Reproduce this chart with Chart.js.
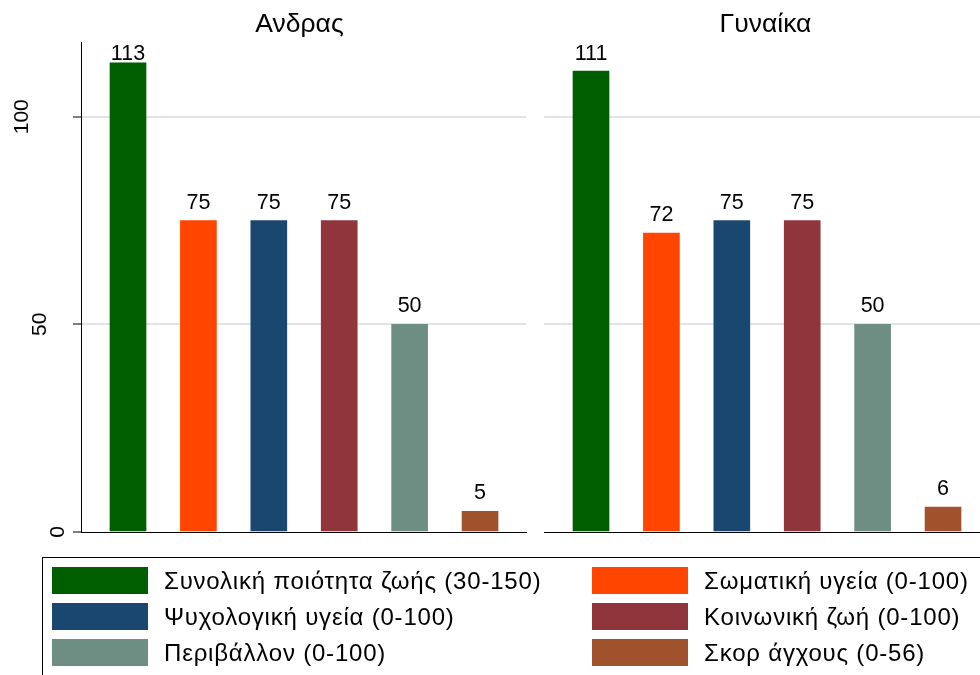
<!DOCTYPE html>
<html>
<head>
<meta charset="utf-8">
<script src="https://cdn.jsdelivr.net/npm/chart.js@4.4.1/dist/chart.umd.min.js"></script>
<style>
  html, body { margin: 0; padding: 0; background: #fff; overflow: hidden; width: 980px; height: 675px; }
  #wrap { position: relative; width: 980px; height: 675px; overflow: hidden; font-family: "Liberation Sans", Arial, sans-serif; }
  canvas { position: absolute; top: 0; }
  #legend { position: absolute; left: 42px; top: 557px; width: 1000px; height: 200px; border: 1px solid #000; box-sizing: border-box; }
  .item { position: absolute; height: 27px; display: flex; align-items: center; }
  .sw { width: 96px; height: 27px; margin-right: 16px; flex: none; }
  .lab { font-size: 24px; letter-spacing: 0.8px; color: #000; white-space: nowrap; }
</style>
</head>
<body>
<div id="wrap">
  <canvas id="men" width="535" height="675"></canvas>
  <canvas id="women" width="460" height="675" style="left:535px"></canvas>
  <div id="legend"></div>
</div>
<script>
// Scale measures shown in each panel
const measures = [
  'Συνολική ποιότητα ζωής (30-150)',
  'Σωματική υγεία (0-100)',
  'Ψυχολογική υγεία (0-100)',
  'Κοινωνική ζωή (0-100)',
  'Περιβάλλον (0-100)',
  'Σκορ άγχους (0-56)'
];
const barColors = ['#005E00', '#FF4500', '#1A476F', '#90353B', '#6E8E84', '#A0522D'];
const panelTitles = ['Ανδρας', 'Γυναίκα'];
const menValues = [113, 75, 75, 75, 50, 5];
const womenValues = [111, 72, 75, 75, 50, 6];
const yTicks = [0, 50, 100];
const yMax = 118;

const FONT = '"Liberation Sans", Arial, sans-serif';

// Panel title centred over the plot region
const titlePlugin = {
  id: 'panelTitle',
  afterDraw(chart, args, opts) {
    const { ctx, chartArea } = chart;
    ctx.save();
    ctx.font = '26.5px ' + FONT;
    ctx.fillStyle = '#000';
    ctx.textAlign = 'center';
    ctx.textBaseline = 'alphabetic';
    ctx.fillText(opts.text, (chartArea.left + chartArea.right) / 2 + opts.shift, chartArea.top - 10);
    ctx.restore();
  }
};

// Value printed above every bar
const valueLabels = {
  id: 'valueLabels',
  afterDatasetsDraw(chart) {
    const { ctx, chartArea } = chart;
    const ds = chart.data.datasets[0];
    const meta = chart.getDatasetMeta(0);
    ctx.save();
    ctx.font = '21.5px ' + FONT;
    ctx.fillStyle = '#000';
    ctx.textAlign = 'center';
    ctx.textBaseline = 'alphabetic';
    meta.data.forEach((bar, i) => {
      const y = Math.max(bar.y - 12, chartArea.top + 17.5);
      ctx.fillText(String(ds.data[i].y), bar.x, y);
    });
    ctx.restore();
  }
};

// Vertical y-axis labels
const yLabels = {
  id: 'yLabels',
  afterDraw(chart) {
    const { ctx } = chart;
    const scale = chart.scales.y;
    ctx.save();
    ctx.font = '21px ' + FONT;
    ctx.fillStyle = '#000';
    ctx.textAlign = 'center';
    ctx.textBaseline = 'alphabetic';
    yTicks.forEach(v => {
      const s = String(v);
      const py = scale.getPixelForValue(v);
      const bx = scale.right - 17.5 - (s.length - 1) * 17.75;
      ctx.translate(bx, py);
      ctx.rotate(-Math.PI / 2);
      ctx.fillText(s, 0, 0);
      ctx.setTransform(1, 0, 0, 1, 0, 0);
    });
    ctx.restore();
  }
};

function makePanel(canvasId, title, values, withAxis) {
  const points = values.map((v, i) => ({ x: i, y: v }));
  return new Chart(document.getElementById(canvasId), {
    type: 'bar',
    data: {
      datasets: [{
        data: points,
        backgroundColor: barColors,
        borderWidth: 0,
        barThickness: 36
      }]
    },
    options: {
      responsive: false,
      animation: false,
      events: [],
      layout: { padding: withAxis ? { left: 0, right: 9, top: 42, bottom: 0 } : { left: 9, right: 6, top: 42, bottom: 0 } },
      plugins: {
        legend: { display: false },
        tooltip: { enabled: false },
        panelTitle: { text: title, shift: withAxis ? -4 : -1 }
      },
      scales: {
        x: {
          type: 'linear',
          offset: false,
          min: -0.6676,
          max: 5.653,
          ticks: { display: false },
          grid: { display: false },
          border: { display: true, color: '#000', width: 1 },
          afterFit(s) { s.height = 143; }
        },
        y: {
          min: 0,
          max: yMax,
          afterBuildTicks(s) { s.ticks = yTicks.map(v => ({ value: v })); },
          ticks: { display: false },
          grid: {
            color: c => (c.tick && c.tick.value === 0) ? 'rgba(0,0,0,0)' : '#e3e3e3',
            lineWidth: 2,
            drawTicks: withAxis,
            tickLength: 8,
            tickColor: '#000',
            tickWidth: 1
          },
          border: { display: withAxis, color: '#000', width: 1 },
          afterFit(s) { s.width = withAxis ? 81 : 0; }
        }
      }
    },
    plugins: withAxis ? [titlePlugin, valueLabels, yLabels] : [titlePlugin, valueLabels]
  });
}

makePanel('men', panelTitles[0], menValues, true);
makePanel('women', panelTitles[1], womenValues, false);

// Legend: two columns, filled row by row
const legend = document.getElementById('legend');
measures.forEach((name, i) => {
  const item = document.createElement('div');
  item.className = 'item';
  item.style.left = (i % 2 === 0 ? 9 : 549) + 'px';
  item.style.top = (9 + Math.floor(i / 2) * 36.2) + 'px';
  const sw = document.createElement('div');
  sw.className = 'sw';
  sw.style.background = barColors[i];
  const lab = document.createElement('span');
  lab.className = 'lab';
  lab.textContent = name;
  item.appendChild(sw);
  item.appendChild(lab);
  legend.appendChild(item);
});
</script>
</body>
</html>
